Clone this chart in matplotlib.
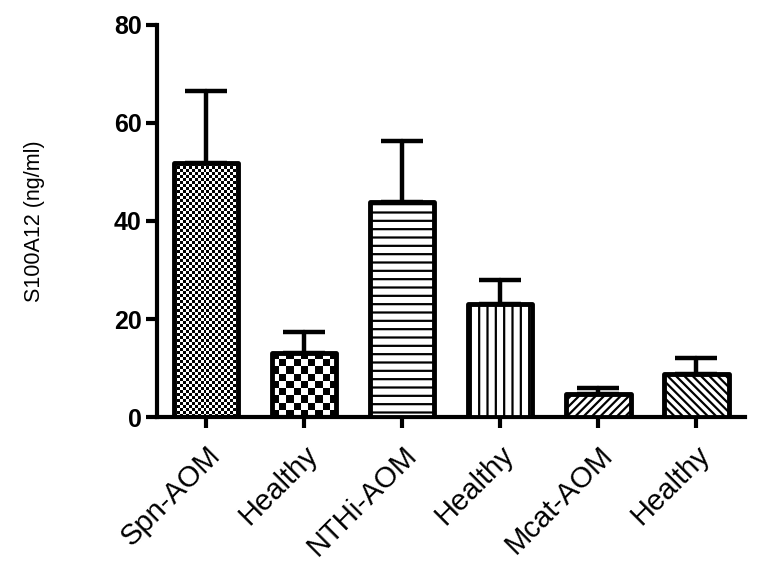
import numpy as np
import matplotlib
matplotlib.use("Agg")
import matplotlib.pyplot as plt
import matplotlib.transforms as mtransforms

groups = ["Spn-AOM", "Healthy", "NTHi-AOM", "Healthy", "Mcat-AOM", "Healthy"]
means = [51.8, 13.1, 43.9, 23.1, 4.7, 8.8]
sem = [14.7, 4.2, 12.4, 4.9, 1.2, 3.2]
yticks = [0, 20, 40, 60, 80]

plt.rcParams['font.family'] = ['Liberation Sans', 'DejaVu Sans']
plt.rcParams['hatch.linewidth'] = 1.6

fig = plt.figure(figsize=(7.62, 5.74), dpi=100)
ax = fig.add_axes([0.206, 0.2735, 0.772, 0.683])

x = np.arange(len(groups))
ax.set_xlim(-0.5, len(groups) - 0.5)
ax.set_ylim(0, 80)

# hatch per bar, None = checkerboard image (cell size in px)
hatches = [None, None, "--", "||", "////", "\\\\\\\\"]
checker = {0: 3, 1: 7.5}

bars = ax.bar(x, means, width=0.66, color="white", edgecolor="black",
              linewidth=3.5, zorder=3)
for i, b in enumerate(bars):
    if hatches[i]:
        b.set_hatch(hatches[i])
    else:
        b.set_facecolor("none")
    b.set_joinstyle("round")

# checkerboard fills drawn as images clipped to the bar
fig.canvas.draw()
for i, cell in checker.items():
    b = bars[i]
    x0, y0 = b.get_x(), b.get_y()
    w, h = b.get_width(), b.get_height()
    p0 = ax.transData.transform((x0, y0))
    p1 = ax.transData.transform((x0 + w, y0 + h))
    nx = max(1, int(round(abs(p1[0] - p0[0]) / cell)))
    ny = max(1, int(round(abs(p1[1] - p0[1]) / cell)))
    board = (np.add.outer(np.arange(ny), np.arange(nx)) % 2).astype(float)
    im = ax.imshow(board, cmap="gray", interpolation="nearest",
                   extent=(x0, x0 + w, y0, y0 + h), aspect="auto", zorder=2.5)
    im.set_clip_path(b)

ax.set_xlim(-0.5, len(groups) - 0.5)
ax.set_ylim(0, 80)

eb = ax.errorbar(x, means, yerr=[np.zeros(len(sem)), sem], fmt="none",
                 ecolor="black", elinewidth=3.2, capsize=15, capthick=3.2,
                 zorder=2)
for c in eb[1]:
    c.set_solid_capstyle("round")
for c in eb[2]:
    c.set_capstyle("round")

for s in ["top", "right"]:
    ax.spines[s].set_visible(False)
for s in ["left", "bottom"]:
    ax.spines[s].set_linewidth(3)

ax.set_yticks(yticks)
ax.set_yticklabels([str(v) for v in yticks], fontsize=18, fontweight="bold")
ax.set_xticks(x)
ax.set_xticklabels(groups, fontsize=21, rotation=45, ha="right",
                   rotation_mode="anchor")
shift = mtransforms.ScaledTranslation(-4 / 72, 0, fig.dpi_scale_trans)
for lbl in ax.get_xticklabels():
    lbl.set_transform(lbl.get_transform() + shift)
ax.tick_params(axis="both", length=8, width=3, direction="out")
ax.tick_params(axis="y", pad=3)
ax.tick_params(axis="x", pad=9)

ax.set_ylabel("S100A12 (ng/ml)", fontsize=15.5)
ax.yaxis.set_label_coords(-0.19, 0.5)

fig.savefig("out.png", dpi=100)
